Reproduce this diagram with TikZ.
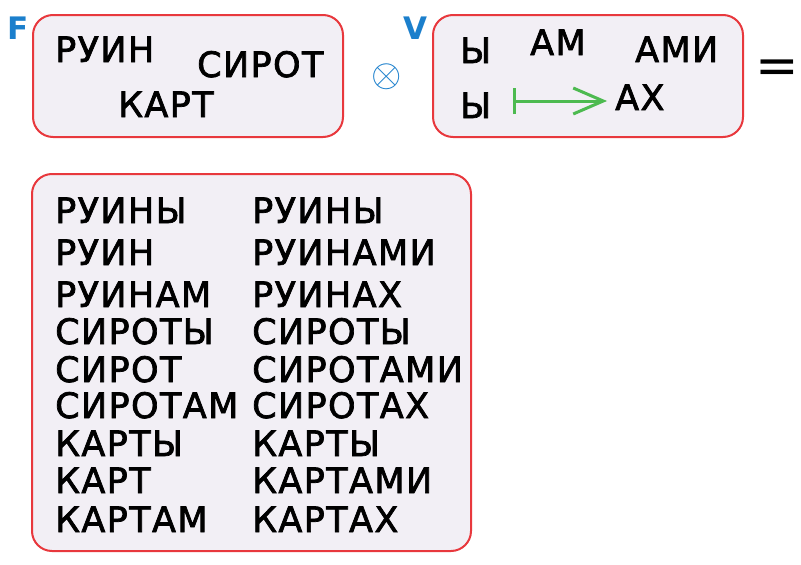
\documentclass[tikz,border=0pt]{standalone}
\usepackage{graphicx}
\usepackage{fontspec}
\setmainfont{DejaVu Sans}
\newfontfamily\wordfont[FakeBold=2, LetterSpace=4]{DejaVu Sans}
\usetikzlibrary{arrows.meta}
\definecolor{boxred}{HTML}{E8383D}
\definecolor{boxfill}{HTML}{F2EFF5}
\definecolor{labelblue}{HTML}{1B7FCC}
\definecolor{mapgreen}{HTML}{4DBA50}
\tikzset{
  setbox/.style={draw=boxred, fill=boxfill, line width=2pt, rounded corners=20pt},
  word/.style={anchor=base west, inner sep=0pt, font=\wordfont\fontsize{35}{40}\selectfont},
  setlabel/.style={anchor=base west, inner sep=0pt, text=labelblue, font=\bfseries\fontsize{31}{34}\selectfont},
  maparrow/.style={draw=mapgreen, line width=3pt, {Bar[width=26pt]}-{Straight Barb[length=30pt,width=26pt]}}
}
\begin{document}
\begin{tikzpicture}[x=1pt,y=-1pt]
\useasboundingbox (0,0) rectangle (801,565);

\draw[setbox] (33,15) rectangle (343,137);
\draw[setbox] (433,15) rectangle (743,137);
\draw[setbox] (32,174) rectangle (471,551);

\node[setlabel] (F) at (7,39) {F};
\node[setlabel] (V) at (403,39) {V};

\node[word] (ruin) at (55,62) {РУИН};
\node[word] (sirot) at (197,77) {СИРОТ};
\node[word] (kart) at (118,117) {КАРТ};

\node[inner sep=0pt, text=labelblue] (times) at (387,77) {\scalebox{3.9}{$\otimes$}};

\node[word] (y1) at (460,63) {Ы};
\node[word] (am) at (530,55) {АМ};
\node[word] (ami) at (635,62) {АМИ};
\node[word] (y2) at (460,118) {Ы};
\node[word] (ax) at (615,110) {АХ};
\coordinate (mapstart) at (513,101);
\draw[maparrow, shorten >=8pt] (mapstart) -- (ax.west |- mapstart);

\node[anchor=west, inner sep=0pt, font=\fontsize{52}{56}\selectfont] (eq) at (755,72) {=};

\node[word] (l1) at (55,223) {РУИНЫ};
\node[word] (l2) at (55,265) {РУИН};
\node[word] (l3) at (55,307) {РУИНАМ};
\node[word] (l4) at (55,344) {СИРОТЫ};
\node[word] (l5) at (55,382) {СИРОТ};
\node[word] (l6) at (55,418) {СИРОТАМ};
\node[word] (l7) at (55,456) {КАРТЫ};
\node[word] (l8) at (55,493) {КАРТ};
\node[word] (l9) at (55,532) {КАРТАМ};

\node[word] (r1) at (252,223) {РУИНЫ};
\node[word] (r2) at (252,265) {РУИНАМИ};
\node[word] (r3) at (252,307) {РУИНАХ};
\node[word] (r4) at (252,344) {СИРОТЫ};
\node[word] (r5) at (252,382) {СИРОТАМИ};
\node[word] (r6) at (252,418) {СИРОТАХ};
\node[word] (r7) at (252,456) {КАРТЫ};
\node[word] (r8) at (252,493) {КАРТАМИ};
\node[word] (r9) at (252,532) {КАРТАХ};
\end{tikzpicture}
\end{document}
